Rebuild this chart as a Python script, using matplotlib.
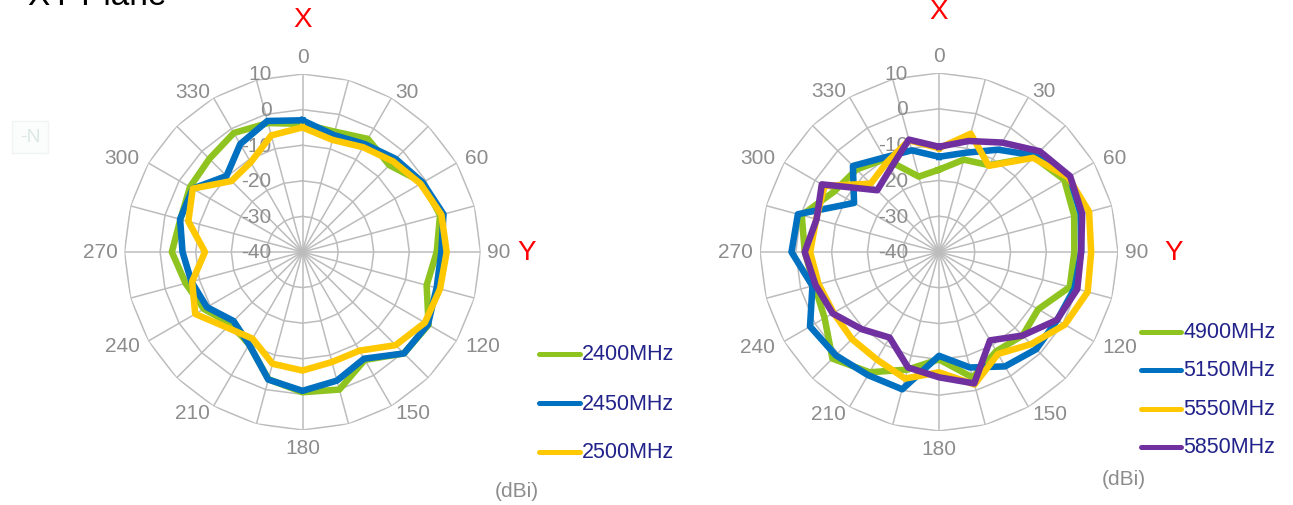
import numpy as np
import matplotlib
matplotlib.use("Agg")
import matplotlib.pyplot as plt
from matplotlib.lines import Line2D
from matplotlib.patches import Rectangle

plt.rcParams['font.family'] = ['Liberation Sans', 'DejaVu Sans']

# ---------------- data ----------------
angles_deg = list(range(0, 360, 15))
angle_labels = ['0', '30', '60', '90', '120', '150', '180', '210', '240', '270', '300', '330']
radial_ticks = [10, 0, -10, -20, -30, -40]

left_names = ['2400MHz', '2450MHz', '2500MHz']
left_2400 = [-4, -5, -3.3, -5.5, -1, 0, -2.3, -3.9, 0.9, 0.3, -5, 0,
             -0.6, -3, -10, -11.5, -8, -6, -3.3, -4.5, -3.5, -3, -1.4, -2.5]
left_2450 = [-3, -6, -5, -3, -1, 1, -1, -1, 0.7, 0.3, -5.4, -2.6,
             -1, -2.9, -10, -12.6, -9, -7.7, -6.3, -4.4, -4.4, -9.8, -5, -1.9]
left_2500 = [-5, -7.4, -6, -4, -1.7, 0.4, 0.5, 0, -0.3, -3, -8, -8,
             -6.7, -7.5, -11.9, -10, -5.2, -7.9, -12.6, -6.8, -4.4, -11.8, -10.9, -6.1]

right_names = ['4900MHz', '5150MHz', '5550MHz', '5850MHz']
right_4900 = [-17, -13.3, -12, -2.5, 0.4, -0.9, -2.2, -2.2, -8, -7, -8, -3.7,
              -10, -6, -1.2, 2.1, -3.1, -4, -2.5, -0.3, -6.2, -7.4, -10, -18.2]
right_5150 = [-13.4, -11.3, -7, -1.9, 2.1, 1, -0.3, -0.8, -1.9, -1.6, -3.1, -6.6,
              -11, -0.3, -0.3, 0.8, 1.6, -3.4, 1.2, 0.8, -12.6, -6, -9.5, -10.6]
right_5550 = [-11, -5.8, -12.2, -2.8, 1.7, 3.4, 2.5, 3, 0.6, -3.6, -7.1, -1.7,
              -6.4, -3.4, -5.3, -5.6, -6, -5.2, -4, -4.5, -3.1, -13, -11, -7.7]
right_5850 = [-10.6, -7.9, -4.7, -0.2, 2.3, 1.4, -0.3, 0, -2, -7, -11.5, -2,
              -5, -6.6, -12.4, -9.5, -5.7, -4.3, -2.5, -4.6, -2.2, -15.6, -13, -7.5]

colors = {'green': '#8fc31f', 'blue': '#0070c0', 'yellow': '#ffc800', 'purple': '#7030a0'}
GRID = '#bcbcbc'
TXT = '#8c8c8c'
LEG = '#22228b'

W, H = 1293, 506
fig = plt.figure(figsize=(W / 100, H / 100), dpi=100)


def make_axes(cx, cy, R):
    ax = fig.add_axes([(cx - R) / W, (H - cy - R) / H, 2 * R / W, 2 * R / H], projection='polar')
    ax.set_theta_zero_location('N')
    ax.set_theta_direction(-1)
    ax.set_ylim(-40, 10)
    ax.grid(False)
    ax.set_xticks([])
    ax.set_yticks([])
    ax.spines['polar'].set_visible(False)
    ax.patch.set_alpha(0)
    th = np.deg2rad(angles_deg + [360])
    for v in [-30, -20, -10, 0, 10]:
        ax.plot(th, [v] * len(th), color=GRID, lw=1.1, zorder=1)
    for a in angles_deg:
        t = np.deg2rad(a)
        ax.plot([t, t], [-40, 10], color=GRID, lw=1.1, zorder=1)
    px = 50.0 / R  # data units per pixel
    for a, lab in zip(range(0, 360, 30), angle_labels):
        s, c = np.sin(np.deg2rad(a)), np.cos(np.deg2rad(a))
        ha = 'left' if s > 0.1 else ('right' if s < -0.1 else 'center')
        if abs(s) < 0.1:
            va = 'bottom' if c > 0 else 'top'
            rr = 10 + 8 * px
        else:
            va = 'center'
            if abs(c) < 0.1:
                rr = 10 + 7 * px
            elif abs(c) > 0.7:
                rr = 10 + 7 * px
            else:
                rr = 10 + 10 * px
        ax.text(np.deg2rad(a), rr, lab, ha=ha, va=va, fontsize=15,
                color=TXT, clip_on=False)
    for v in radial_ticks:
        ax.annotate(str(v), xy=(0, v), xytext=(-31, 0), textcoords='offset pixels',
                    ha='right', va='center', fontsize=15, color=TXT, annotation_clip=False)
    return ax


def draw_series(ax, vals, color):
    th = np.deg2rad(angles_deg + [360])
    r = list(vals) + [vals[0]]
    ax.plot(th, r, color=color, lw=4.7, solid_joinstyle='round', zorder=3)


# left chart
axL = make_axes(302.5, 253, 178)
for vals, c in zip([left_2400, left_2450, left_2500], ['green', 'blue', 'yellow']):
    draw_series(axL, vals, colors[c])
axL.text(0, 25.4, 'X', color='red', fontsize=20, ha='center', va='center', clip_on=False)
axL.text(np.pi / 2, 22.9, 'Y', color='red', fontsize=20, ha='center', va='center', clip_on=False)

# right chart
axR = make_axes(939, 253, 179)
for vals, c in zip([right_4900, right_5150, right_5550, right_5850],
                   ['green', 'blue', 'yellow', 'purple']):
    draw_series(axR, vals, colors[c])
axR.text(0, 27.3, 'X', color='red', fontsize=20, ha='center', va='center', clip_on=False)
axR.text(np.pi / 2, 25.4, 'Y', color='red', fontsize=20, ha='center', va='center', clip_on=False)


def legend_block(x0, x1, ys, names, cols):
    for y, n, c in zip(ys, names, cols):
        fig.add_artist(Line2D([x0 / W, x1 / W], [1 - y / H, 1 - y / H], color=colors[c],
                              lw=3.6, solid_capstyle='round', transform=fig.transFigure, zorder=2))
        fig.text((x1 + 2) / W, 1 - y / H, n, color=LEG, fontsize=15.5, ha='left', va='center',
                 zorder=3)


# white legend background on the right (it hides part of the "120" label)
fig.add_artist(Rectangle((1137 / W, 1 - 462 / H), 150 / W, 145 / H, transform=fig.transFigure,
                         facecolor='white', edgecolor='none', zorder=1))

legend_block(539, 580, [355, 404, 453], left_names, ['green', 'blue', 'yellow'])
legend_block(1141, 1181, [333, 371, 410, 448], right_names, ['green', 'blue', 'yellow', 'purple'])

fig.text(517 / W, 1 - 492 / H, '(dBi)', color=TXT, fontsize=15, ha='center', va='center')
fig.text(1124 / W, 1 - 480 / H, '(dBi)', color=TXT, fontsize=15, ha='center', va='center')

fig.text(28 / W, 1 - 5 / H, 'XY Plane', color='black', fontsize=24, ha='left', va='baseline')
fig.text(20 / W, 1 - 138 / H, '-N', color='#dce9e3', fontsize=14, ha='left', va='center',
         bbox=dict(facecolor='#fbfdfc', edgecolor='#f0f4f2', boxstyle='square,pad=0.4'))

fig.savefig('out.png', dpi=100)
